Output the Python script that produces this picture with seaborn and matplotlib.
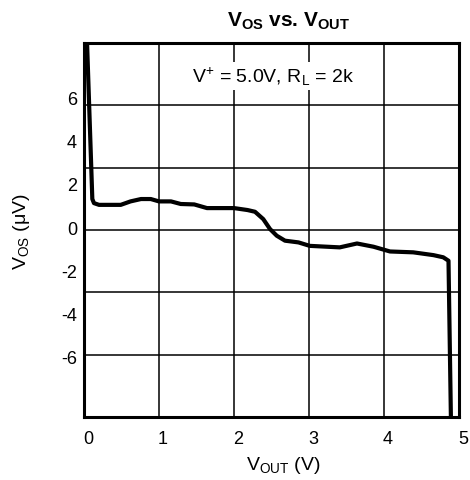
import numpy as np
import pandas as pd
import matplotlib
matplotlib.use("Agg")
import matplotlib.pyplot as plt
import matplotlib.transforms as mtransforms
from matplotlib.ticker import FixedLocator
import seaborn as sns

# Data (VOUT in V, VOS in uV)
vout = [0.04, 0.111, 0.133, 0.20, 0.49, 0.62, 0.76, 0.89, 1.00, 1.16, 1.29, 1.47,
        1.64, 2.00, 2.18, 2.28, 2.39, 2.48, 2.57, 2.68, 2.86, 3.01, 3.41, 3.64,
        3.86, 4.08, 4.39, 4.66, 4.79, 4.86, 4.895]
vos = [8.6, 1.30, 1.11, 1.03, 1.03, 1.19, 1.30, 1.30, 1.19, 1.19, 1.07, 1.05,
       0.88, 0.88, 0.79, 0.71, 0.37, -0.09, -0.40, -0.63, -0.71, -0.87, -0.94, -0.76,
       -0.91, -1.13, -1.17, -1.30, -1.40, -1.56, -9.5]
x_ticks = [0, 1, 2, 3, 4, 5]
y_ticks = [-6, -4, -2, 0, 2, 4, 6]
y_tick_labels = ["-6", "-4", "-2", "0", "2", "4", "6"]

sns.set_theme(style="white")
plt.rcParams['font.family'] = ['Liberation Sans', 'DejaVu Sans']
plt.rcParams['mathtext.fontset'] = 'custom'
plt.rcParams['mathtext.rm'] = 'Liberation Sans'
plt.rcParams['mathtext.it'] = 'Liberation Sans'
plt.rcParams['mathtext.bf'] = 'Liberation Sans:bold'

fig = plt.figure(figsize=(4.70, 4.81), dpi=100)
ax = fig.add_axes([84/470, 1 - 418/481, 375/470, 374/481])

df = pd.DataFrame({"VOUT": vout, "VOS": vos})
sns.lineplot(data=df, x="VOUT", y="VOS", sort=False, estimator=None,
             color="black", linewidth=3.0, ax=ax, zorder=3)
for ln in ax.lines:
    ln.set_solid_joinstyle("round")
    ln.set_solid_capstyle("round")

ymin, ymax = -8.80, 8.53
ax.set_xlim(0, 5)
ax.set_ylim(ymin, ymax)

ax.xaxis.set_major_locator(FixedLocator(x_ticks))
ax.set_xticklabels([str(t) for t in x_ticks])
ax.yaxis.set_major_locator(FixedLocator(y_ticks))
ax.set_yticklabels(y_tick_labels)
grid_y = [ymin + k * (ymax - ymin) / 6 for k in range(1, 6)]
ax.yaxis.set_minor_locator(FixedLocator(grid_y))

ax.grid(False)
ax.xaxis.grid(True, which="major", color="black", linewidth=1.1)
ax.yaxis.grid(True, which="minor", color="black", linewidth=1.1)
ax.tick_params(axis="both", which="both", length=0, labelsize=13, colors="black")
ax.tick_params(axis="x", pad=9)
ax.tick_params(axis="y", pad=5)

offset = mtransforms.ScaledTranslation(4/100, 0, fig.dpi_scale_trans)
for lbl in ax.get_xticklabels():
    lbl.set_transform(lbl.get_transform() + offset)

for s in ax.spines.values():
    s.set_color("black")
    s.set_linewidth(2.2)

ax.set_xlabel(r"V$_{\mathrm{OUT}}$ (V)", fontsize=14, color="black")
ax.set_ylabel(r"V$_{\mathrm{OS}}$ ($\mu$V)", fontsize=14, color="black")
ax.xaxis.label.set_va("center")
ax.yaxis.label.set_va("center")
ax.xaxis.set_label_coords((283.5 - 84) / 375, -(465 - 418) / 374)
ax.yaxis.set_label_coords((22 - 84) / 375, (418 - 232) / 374)

ax.text(2.52, 7.0, r"V$^{+}$ = 5.0V, R$_{\mathrm{L}}$ = 2k", fontsize=14,
        ha="center", va="center", color="black", zorder=4,
        bbox=dict(facecolor="white", edgecolor="none", pad=2))

fig.text(289 / 470, 1 - 21 / 481, r"$\mathbf{V_{OS}}$ vs. $\mathbf{V_{OUT}}$",
         fontsize=15, fontweight="bold", ha="center", va="center", color="black")

fig.savefig("out.png", dpi=100)
